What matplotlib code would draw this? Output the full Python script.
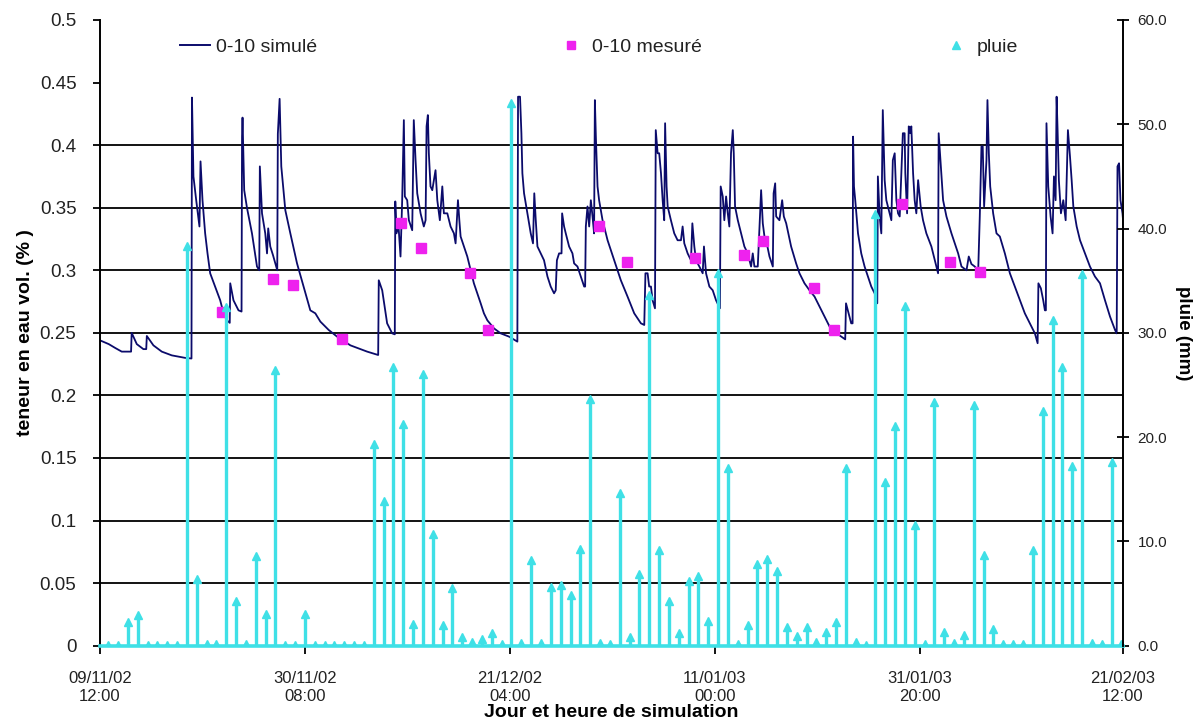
#!/usr/bin/env python3
"""Teneur en eau 0-10 cm simulée / mesurée et pluie journalière."""

import matplotlib
matplotlib.use("Agg")
import matplotlib.pyplot as plt
import numpy as np
import pandas as pd
from matplotlib.lines import Line2D
from matplotlib.ticker import FuncFormatter

plt.rcParams["font.family"] = ["Liberation Sans", "DejaVu Sans"]

START = pd.Timestamp("2002-11-09 12:00")

# simulated volumetric water content, 0-10 cm (days since START, m3/m3)
sim_day = [
    0.00, 0.89, 1.53, 2.21, 3.16, 3.22, 3.74, 4.41, 4.70, 4.76,
    5.43, 6.28, 7.30, 8.66, 9.30, 9.35, 9.50, 9.78, 10.11, 10.22,
    10.42, 10.69, 10.93, 11.20, 12.22, 12.56, 12.90, 13.19, 13.24, 13.57,
    14.08, 14.39, 14.44, 14.49, 14.66, 14.94, 15.45, 15.96, 16.19, 16.25,
    16.47, 16.80, 16.98, 17.10, 17.31, 17.59, 17.82, 18.02, 18.08, 18.26,
    18.43, 18.84, 19.35, 20.03, 20.70, 21.38, 21.89, 22.40, 23.25, 24.10,
    25.46, 27.16, 28.28, 28.34, 28.69, 29.19, 29.70, 29.97, 30.02, 30.14,
    30.35, 30.55, 30.72, 30.89, 30.99, 31.23, 31.40, 31.74, 31.90, 32.08,
    32.25, 32.59, 32.92, 33.10, 33.20, 33.33, 33.43, 33.60, 33.78, 34.11,
    34.29, 34.55, 34.80, 34.96, 35.31, 35.64, 35.98, 36.15, 36.39, 36.53,
    36.66, 37.00, 37.34, 37.68, 38.01, 38.36, 38.70, 39.03, 39.38, 40.05,
    40.73, 41.58, 42.43, 42.50, 42.70, 42.84, 42.94, 43.11, 43.45, 43.79,
    44.02, 44.15, 44.30, 44.47, 44.81, 45.14, 45.49, 45.82, 46.16, 46.33,
    46.45, 46.67, 46.92, 46.98, 47.18, 47.35, 47.69, 48.03, 48.20, 48.54,
    48.88, 49.22, 49.32, 49.39, 49.56, 49.73, 49.90, 50.07, 50.23, 50.31,
    50.41, 50.58, 50.74, 51.09, 51.60, 52.27, 52.95, 53.63, 54.31, 54.99,
    55.33, 55.45, 55.67, 55.83, 56.01, 56.18, 56.42, 56.50, 56.69, 56.85,
    57.03, 57.20, 57.36, 57.45, 57.60, 57.71, 58.04, 58.38, 58.72, 59.06,
    59.23, 59.40, 59.74, 60.08, 60.22, 60.42, 60.59, 60.93, 61.27, 61.40,
    61.61, 61.95, 62.29, 62.63, 63.02, 63.10, 63.31, 63.47, 63.65, 63.82,
    63.98, 64.15, 64.33, 64.43, 64.56, 64.84, 65.17, 65.51, 65.85, 66.19,
    66.36, 66.53, 66.87, 67.10, 67.21, 67.38, 67.55, 67.72, 68.06, 68.40,
    68.48, 68.64, 68.74, 69.07, 69.35, 69.52, 69.76, 70.26, 70.77, 71.11,
    71.62, 72.13, 72.64, 73.15, 73.66, 74.17, 74.67, 75.36, 75.76, 75.84,
    76.10, 76.37, 76.51, 76.56, 76.65, 76.78, 77.06, 77.39, 77.73, 78.07,
    78.41, 78.75, 79.02, 79.08, 79.26, 79.43, 79.58, 79.77, 79.94, 80.27,
    80.45, 80.60, 80.79, 80.96, 81.13, 81.30, 81.62, 81.80, 81.87, 82.05,
    82.22, 82.38, 82.48, 82.66, 82.82, 82.99, 83.17, 83.43, 83.67, 84.01,
    84.52, 85.03, 85.20, 85.26, 85.44, 85.71, 86.05, 86.56, 87.24, 87.58,
    88.09, 88.32, 88.59, 88.93, 89.28, 89.44, 89.61, 89.74, 89.88, 90.12,
    90.22, 90.36, 90.50, 90.80, 91.14, 91.48, 91.99, 92.50, 93.00, 93.51,
    94.02, 94.53, 95.04, 95.32, 95.40, 95.65, 95.89, 96.06, 96.16, 96.22,
    96.40, 96.64, 96.84, 96.98, 97.15, 97.25, 97.35, 97.48, 97.69, 97.93,
    98.17, 98.40, 98.61, 98.78, 98.95, 99.29, 99.63, 100.13, 100.64, 101.15,
    101.66, 102.17, 102.68, 103.19, 103.36, 103.44, 103.60, 103.74, 103.95, 104.30,
]
sim_theta = [
    0.244, 0.241, 0.238, 0.235, 0.235, 0.250, 0.241, 0.237, 0.237, 0.2475,
    0.240, 0.235, 0.232, 0.230, 0.2295, 0.438, 0.375, 0.356, 0.335, 0.387,
    0.356, 0.3295, 0.3135, 0.2976, 0.276, 0.2656, 0.260, 0.258, 0.2896, 0.276,
    0.268, 0.267, 0.407, 0.422, 0.364, 0.350, 0.3295, 0.303, 0.300, 0.383,
    0.3455, 0.3295, 0.3135, 0.3335, 0.319, 0.312, 0.3055, 0.300, 0.409, 0.437,
    0.383, 0.348, 0.3295, 0.3055, 0.287, 0.268, 0.2656, 0.259, 0.2523, 0.247,
    0.240, 0.235, 0.2323, 0.292, 0.284, 0.2576, 0.2496, 0.2488, 0.355, 0.3295,
    0.335, 0.311, 0.356, 0.420, 0.359, 0.356, 0.340, 0.332, 0.420, 0.388,
    0.3615, 0.3455, 0.335, 0.340, 0.415, 0.424, 0.3935, 0.367, 0.364, 0.380,
    0.356, 0.340, 0.367, 0.3455, 0.3455, 0.335, 0.3295, 0.3215, 0.356, 0.340,
    0.327, 0.319, 0.311, 0.300, 0.2896, 0.2816, 0.2736, 0.2656, 0.260, 0.2536,
    0.2496, 0.247, 0.243, 0.4387, 0.4387, 0.4095, 0.3775, 0.3615, 0.3455, 0.3295,
    0.3215, 0.3615, 0.340, 0.319, 0.3135, 0.308, 0.295, 0.287, 0.2816, 0.284,
    0.308, 0.3135, 0.3135, 0.3455, 0.335, 0.3295, 0.319, 0.3135, 0.3055, 0.303,
    0.295, 0.287, 0.287, 0.335, 0.351, 0.335, 0.356, 0.343, 0.3295, 0.436,
    0.4068, 0.367, 0.356, 0.340, 0.324, 0.308, 0.292, 0.279, 0.2656, 0.2576,
    0.2563, 0.2976, 0.2976, 0.287, 0.287, 0.276, 0.2696, 0.412, 0.3935, 0.3935,
    0.3775, 0.356, 0.340, 0.4175, 0.367, 0.351, 0.340, 0.3295, 0.324, 0.324,
    0.335, 0.3215, 0.3135, 0.308, 0.3375, 0.319, 0.308, 0.303, 0.2976, 0.319,
    0.2976, 0.287, 0.284, 0.276, 0.2696, 0.367, 0.359, 0.340, 0.359, 0.3455,
    0.335, 0.3935, 0.412, 0.3935, 0.351, 0.340, 0.3295, 0.319, 0.3135, 0.303,
    0.3135, 0.303, 0.303, 0.3455, 0.364, 0.3375, 0.327, 0.324, 0.311, 0.303,
    0.3615, 0.3695, 0.343, 0.340, 0.356, 0.343, 0.3375, 0.319, 0.3055, 0.2976,
    0.2896, 0.284, 0.279, 0.271, 0.263, 0.255, 0.251, 0.247, 0.2448, 0.2736,
    0.2656, 0.2576, 0.2576, 0.4068, 0.367, 0.356, 0.3295, 0.3135, 0.303, 0.295,
    0.287, 0.2816, 0.2736, 0.375, 0.343, 0.3295, 0.428, 0.372, 0.356, 0.3455,
    0.340, 0.388, 0.3935, 0.356, 0.3455, 0.343, 0.4095, 0.4095, 0.3775, 0.3455,
    0.415, 0.4095, 0.415, 0.3775, 0.356, 0.3455, 0.372, 0.351, 0.340, 0.3295,
    0.319, 0.303, 0.2976, 0.4095, 0.388, 0.356, 0.343, 0.3295, 0.3135, 0.303,
    0.300, 0.311, 0.305, 0.303, 0.300, 0.343, 0.399, 0.399, 0.351, 0.388,
    0.436, 0.3935, 0.367, 0.3455, 0.3295, 0.327, 0.3135, 0.2976, 0.287, 0.276,
    0.2656, 0.2576, 0.2496, 0.2417, 0.2896, 0.2856, 0.276, 0.268, 0.268, 0.4175,
    0.367, 0.343, 0.3295, 0.375, 0.356, 0.4387, 0.412, 0.372, 0.3455, 0.356,
    0.340, 0.412, 0.391, 0.372, 0.351, 0.335, 0.324, 0.3135, 0.303, 0.295,
    0.2896, 0.276, 0.263, 0.2523, 0.2496, 0.383, 0.3855, 0.356, 0.3455, 0.311,
]

# measured water content, 0-10 cm
meas_day = [12.39, 17.55, 19.65, 24.61, 30.55, 32.62, 37.61, 39.48, 50.74,
            53.53, 60.52, 65.51, 67.44, 72.58, 74.61, 81.50, 86.45, 89.51]
meas_theta = [0.267, 0.293, 0.288, 0.245, 0.338, 0.3175, 0.298, 0.252, 0.335,
              0.307, 0.310, 0.3123, 0.323, 0.286, 0.252, 0.353, 0.307, 0.2987]

# daily rain (mm), recorded at 08:00 from 10/11/02
rain_start = pd.Timestamp("2002-11-10 08:00")
rain_mm = [
    0.1, 0.1, 2.3, 2.9, 0.1, 0.1, 0.1, 0.1, 38.3, 6.4,
    0.2, 0.2, 32.5, 4.3, 0.2, 8.6, 3.0, 26.4, 0.1, 0.1,
    3.0, 0.1, 0.1, 0.1, 0.1, 0.1, 0.1, 19.3, 13.9, 26.7,
    21.3, 2.1, 26.1, 10.7, 2.0, 5.5, 0.8, 0.4, 0.6, 1.2,
    0.2, 52.0, 0.3, 8.2, 0.3, 5.6, 5.8, 4.9, 9.3, 23.7,
    0.3, 0.2, 14.6, 0.8, 6.9, 33.6, 9.2, 4.3, 1.2, 6.2,
    6.7, 2.4, 35.7, 17.0, 0.2, 2.0, 7.8, 8.3, 7.2, 1.8,
    0.9, 1.8, 0.4, 1.3, 2.3, 17.0, 0.4, 0.1, 41.4, 15.7,
    21.1, 32.6, 11.6, 0.2, 23.4, 1.3, 0.3, 1.0, 23.1, 8.7,
    1.6, 0.2, 0.2, 0.2, 9.2, 22.5, 31.2, 26.7, 17.2, 35.6,
    0.3, 0.2, 17.6, 0.2,
]

tick_hours = [0, 500, 1000, 1500, 2000, 2496]
left_ticks = [0, 0.05, 0.1, 0.15, 0.2, 0.25, 0.3, 0.35, 0.4, 0.45, 0.5]
grid_levels = [0.05, 0.1, 0.15, 0.2, 0.25, 0.3, 0.35, 0.4]
right_ticks = [0, 10, 20, 30, 40, 50, 60]

NAVY = "#0b0b6b"
MAGENTA = "#ee22ee"
CYAN = "#3fe0e6"
TXT = "#222222"

rain_dates = pd.date_range(rain_start, periods=len(rain_mm), freq="D")
rain_day = (rain_dates - START) / pd.Timedelta(days=1)
x_end = tick_hours[-1] / 24

fig = plt.figure(figsize=(12.03, 7.23), dpi=100)
ax = fig.add_axes([100 / 1203, 1 - 645.7 / 723, 1023 / 1203, 625.7 / 723])

for y in grid_levels:
    ax.axhline(y, color="black", linewidth=1.3, zorder=0)

ax.plot(sim_day, sim_theta, color=NAVY, linewidth=1.3, zorder=2)
ax.plot(meas_day, meas_theta, linestyle="none", marker="s", markersize=7,
        color=MAGENTA, zorder=3)

ax.set_xlim(0, x_end)
ax.set_ylim(0, 0.5)
ax.set_yticks(left_ticks)
ax.yaxis.set_major_formatter(FuncFormatter(lambda v, _: f"{v:g}"))
ax.set_xticks([h / 24 for h in tick_hours])
ax.set_xticklabels([(START + pd.Timedelta(hours=h)).strftime("%d/%m/%y\n%H:%M")
                    for h in tick_hours])
ax.tick_params(axis="y", direction="out", length=5, width=1.3, pad=12,
               labelsize=13.5, labelcolor=TXT)
ax.tick_params(axis="x", direction="out", length=6, width=1.3, pad=12,
               labelsize=12, labelcolor=TXT)
for lab in ax.get_xticklabels():
    lab.set_linespacing(1.25)
ax.spines["top"].set_visible(False)
ax.spines["right"].set_visible(False)
ax.spines["left"].set_linewidth(1.4)
ax.spines["bottom"].set_linewidth(1.4)
ax.set_ylabel("teneur en eau vol. (% )", fontsize=14, fontweight="bold", labelpad=4)
ax.set_xlabel("Jour et heure de simulation", fontsize=14, fontweight="bold", labelpad=0)

ax2 = ax.twinx()
ax2.vlines(rain_day, 0, rain_mm, color=CYAN, linewidth=2.4)
ax2.plot(rain_day, rain_mm, linestyle="none", marker="^", markersize=5.5, color=CYAN)
ax2.plot([0, x_end], [0, 0], color=CYAN, linewidth=2.6, clip_on=False)
ax2.set_xlim(0, x_end)
ax2.set_ylim(0, 60)
ax2.set_yticks(right_ticks)
ax2.yaxis.set_major_formatter(FuncFormatter(lambda v, _: f"{v:.1f}"))
ax2.tick_params(axis="y", direction="inout", length=9, width=1.3, pad=6,
                labelsize=11, labelcolor=TXT)
for side in ("top", "left", "bottom"):
    ax2.spines[side].set_visible(False)
ax2.spines["right"].set_linewidth(1.4)
ax2.set_ylabel("pluie (mm)", fontsize=13.5, fontweight="bold", rotation=270, labelpad=18)

handles = [
    Line2D([], [], color=NAVY, linewidth=1.4, label="0-10 simulé"),
    Line2D([], [], color=MAGENTA, marker="s", markersize=6, linestyle="none",
           label="0-10 mesuré"),
    Line2D([], [], color=CYAN, marker="^", markersize=6, linestyle="none",
           label="pluie"),
]
leg = ax2.legend(handles=handles, loc="center left", bbox_to_anchor=(0.078, 0.957),
                 ncol=3, frameon=False, fontsize=14, handlelength=1.55,
                 handletextpad=0.3, columnspacing=12.3, borderpad=0, borderaxespad=0)
for t in leg.get_texts():
    t.set_color(TXT)

fig.savefig("out.png", dpi=100, facecolor="white")
